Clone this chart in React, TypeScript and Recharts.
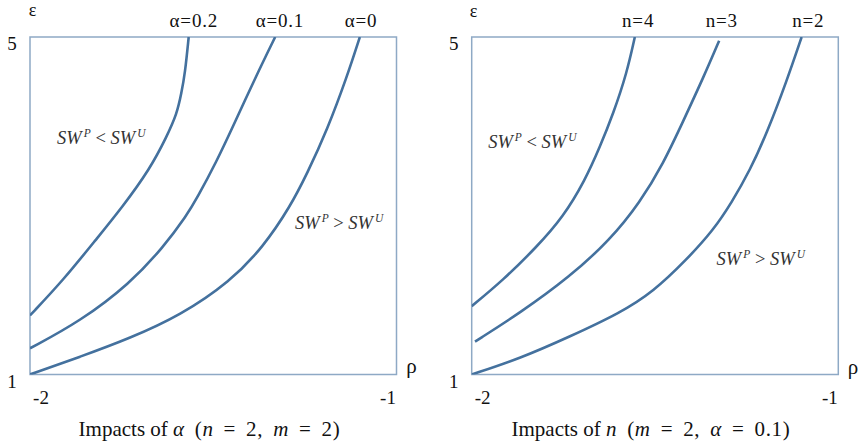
import React from 'react';
import { LineChart, Line, XAxis, YAxis, ReferenceArea, ReferenceDot } from 'recharts';

// ---------- data (ρ, ε) ----------
const alpha0: [number, number][] = [
  [-2, 1.0], [-1.863, 1.21], [-1.727, 1.43], [-1.59, 1.7], [-1.454, 2.1], [-1.363, 2.515],
  [-1.29, 2.99], [-1.244, 3.38], [-1.189, 3.9], [-1.135, 4.53], [-1.1, 5.0],
];
const alpha01: [number, number][] = [
  [-2, 1.31], [-1.863, 1.63], [-1.727, 2.08], [-1.636, 2.51], [-1.572, 2.889], [-1.545, 3.085],
  [-1.491, 3.523], [-1.445, 3.951], [-1.381, 4.556], [-1.331, 5.0],
];
const alpha02: [number, number][] = [
  [-2, 1.7], [-1.909, 2.12], [-1.818, 2.61], [-1.749, 2.979], [-1.672, 3.441], [-1.627, 3.82],
  [-1.599, 4.09], [-1.587, 4.333], [-1.577, 4.57], [-1.567, 5.0],
];
const n2: [number, number][] = [
  [-2, 1.0], [-1.868, 1.19], [-1.732, 1.45], [-1.595, 1.73], [-1.505, 1.98], [-1.414, 2.36],
  [-1.341, 2.71], [-1.291, 3.037], [-1.241, 3.42], [-1.195, 3.859], [-1.141, 4.475], [-1.1, 5.0],
];
const n3: [number, number][] = [
  [-1.991, 1.39], [-1.868, 1.73], [-1.732, 2.16], [-1.623, 2.594], [-1.541, 3.04],
  [-1.477, 3.503], [-1.423, 4.004], [-1.368, 4.52], [-1.325, 4.956],
];
const n4: [number, number][] = [
  [-2, 1.81], [-1.914, 2.12], [-1.823, 2.51], [-1.75, 2.87], [-1.691, 3.3], [-1.65, 3.7],
  [-1.614, 4.09], [-1.577, 4.57], [-1.555, 5.0],
];

const leftNames = ['α=0', 'α=0.1', 'α=0.2'];
const leftLabelRho = [-1.097, -1.318, -1.553];
const rightNames = ['n=2', 'n=3', 'n=4'];
const rightLabelRho = [-1.082, -1.318, -1.546];

const xTicks = [-2, -1];
const yTicks = [1, 5];
const xDomain = [-2, -1];
const yDomain = [1, 5];

// region annotations: [rho, eps] of text start (baseline)
const leftLessAt: [number, number] = [-1.926, 3.73];
const leftGreaterAt: [number, number] = [-1.277, 2.72];
const rightLessAt: [number, number] = [-1.955, 3.68];
const rightGreaterAt: [number, number] = [-1.332, 2.3];

// ---------- styles ----------
const CURVE = '#44719e';
const BORDER = '#8ea9c5';
const SERIF = '"Liberation Serif", "Times New Roman", serif';
const PLOT_TOP = 37;
const PLOT_BOTTOM = 374.5;

const toPts = (arr: [number, number][]) => arr.map(([rho, eps]) => ({ rho, eps }));

const SwText = ({ x, y, op }: { x: number; y: number; op: string }) => (
  <text x={x} y={y} fontFamily={SERIF} fontSize={18.5} fill="#333" fontStyle="italic">
    <tspan>SW</tspan>
    <tspan fontSize={11.5} dx={2} dy={-7}>P</tspan>
    <tspan dy={7} fontStyle="normal">{` ${op} `}</tspan>
    <tspan>SW</tspan>
    <tspan fontSize={11.5} dx={2} dy={-7}>U</tspan>
  </text>
);

type PanelProps = {
  left: number;
  width: number;
  margin: { top: number; right: number; bottom: number; left: number };
  series: [number, number][][];
  names: string[];
  labelRho: number[];
  lessAt: [number, number];
  greaterAt: [number, number];
};

const Panel = ({ left, width, margin, series, names, labelRho, lessAt, greaterAt }: PanelProps) => {
  return (
    <div style={{ position: 'absolute', left, top: 0 }}>
      <LineChart width={width} height={444} margin={margin}>
        <XAxis type="number" dataKey="rho" domain={xDomain} ticks={xTicks} allowDataOverflow hide />
        <YAxis type="number" dataKey="eps" domain={yDomain} ticks={yTicks} allowDataOverflow hide />
        <ReferenceArea
          x1={xDomain[0]}
          x2={xDomain[1]}
          y1={yDomain[0]}
          y2={yDomain[1]}
          fill="none"
          fillOpacity={0}
          stroke={BORDER}
          strokeWidth={1.5}
          ifOverflow="visible"
        />
        {series.map((s, i) => (
          <Line
            key={names[i]}
            data={toPts(s)}
            dataKey="eps"
            type="basis"
            stroke={CURVE}
            strokeWidth={2.6}
            dot={false}
            activeDot={false}
            isAnimationActive={false}
          />
        ))}
        {xTicks.map((v) => (
          <ReferenceDot
            key={'xt' + v}
            x={v}
            y={yDomain[0]}
            r={0}
            ifOverflow="visible"
            shape={(p: any) => (
              <text x={p.cx + (v === xDomain[0] ? 11 : -8.5)} y={p.cy + 29} textAnchor="middle" fontFamily={SERIF} fontSize={19} fill="#111">
                {String(v)}
              </text>
            )}
          />
        ))}
        {yTicks.map((v) => (
          <ReferenceDot
            key={'yt' + v}
            x={xDomain[0]}
            y={v}
            r={0}
            ifOverflow="visible"
            shape={(p: any) => (
              <text x={p.cx - 18} y={p.cy + 13} textAnchor="middle" fontFamily={SERIF} fontSize={19} fill="#111">
                {String(v)}
              </text>
            )}
          />
        ))}
        {names.map((n, i) => (
          <ReferenceDot
            key={'lbl' + n}
            x={labelRho[i]}
            y={yDomain[1]}
            r={0}
            ifOverflow="visible"
            shape={(p: any) => (
              <text x={p.cx} y={p.cy - 10} textAnchor="middle" fontFamily={SERIF} fontSize={19} fill="#111" letterSpacing={0.8}>
                {n}
              </text>
            )}
          />
        ))}
        <ReferenceDot
          x={lessAt[0]}
          y={lessAt[1]}
          r={0}
          ifOverflow="visible"
          shape={(p: any) => <SwText x={p.cx} y={p.cy} op="<" />}
        />
        <ReferenceDot
          x={greaterAt[0]}
          y={greaterAt[1]}
          r={0}
          ifOverflow="visible"
          shape={(p: any) => <SwText x={p.cx} y={p.cy} op=">" />}
        />
      </LineChart>
    </div>
  );
};

export default function App() {
  return (
    <div style={{ position: 'absolute', left: 0, top: 0, width: 861, height: 444, background: '#fff', overflow: 'hidden' }}>
      <Panel
        left={0}
        width={430}
        margin={{ top: PLOT_TOP, right: 33.5, bottom: 444 - PLOT_BOTTOM, left: 30 }}
        series={[alpha0, alpha01, alpha02]}
        names={leftNames}
        labelRho={leftLabelRho}
        lessAt={leftLessAt}
        greaterAt={leftGreaterAt}
      />
      <Panel
        left={430}
        width={431}
        margin={{ top: PLOT_TOP, right: 22.7, bottom: 444 - PLOT_BOTTOM, left: 41.7 }}
        series={[n2, n3, n4]}
        names={rightNames}
        labelRho={rightLabelRho}
        lessAt={rightLessAt}
        greaterAt={rightGreaterAt}
      />
      <svg width={861} height={444} style={{ position: 'absolute', left: 0, top: 0, pointerEvents: 'none' }}>
        <g fontFamily={SERIF} fill="#111">
          <text x={32.5} y={16} textAnchor="middle" fontSize={18}>ε</text>
          <text x={473.5} y={17} textAnchor="middle" fontSize={18}>ε</text>
          <text x={411.5} y={373} textAnchor="middle" fontSize={21}>ρ</text>
          <text x={853} y={374} textAnchor="middle" fontSize={21}>ρ</text>
          <text x={209.5} y={436} textAnchor="middle" fontSize={21}>
            Impacts of{' '}
            <tspan letterSpacing={0.7} wordSpacing={4}>
              <tspan fontStyle="italic">α</tspan> (<tspan fontStyle="italic">n</tspan>
              {' = 2, '}
              <tspan fontStyle="italic">m</tspan>
              {' = 2)'}
            </tspan>
          </text>
          <text x={651} y={436} textAnchor="middle" fontSize={21}>
            Impacts of{' '}
            <tspan letterSpacing={0.7} wordSpacing={4}>
              <tspan fontStyle="italic">n</tspan> (<tspan fontStyle="italic">m</tspan>
              {' = 2, '}
              <tspan fontStyle="italic">α</tspan>
              {' = 0.1)'}
            </tspan>
          </text>
        </g>
      </svg>
    </div>
  );
}
